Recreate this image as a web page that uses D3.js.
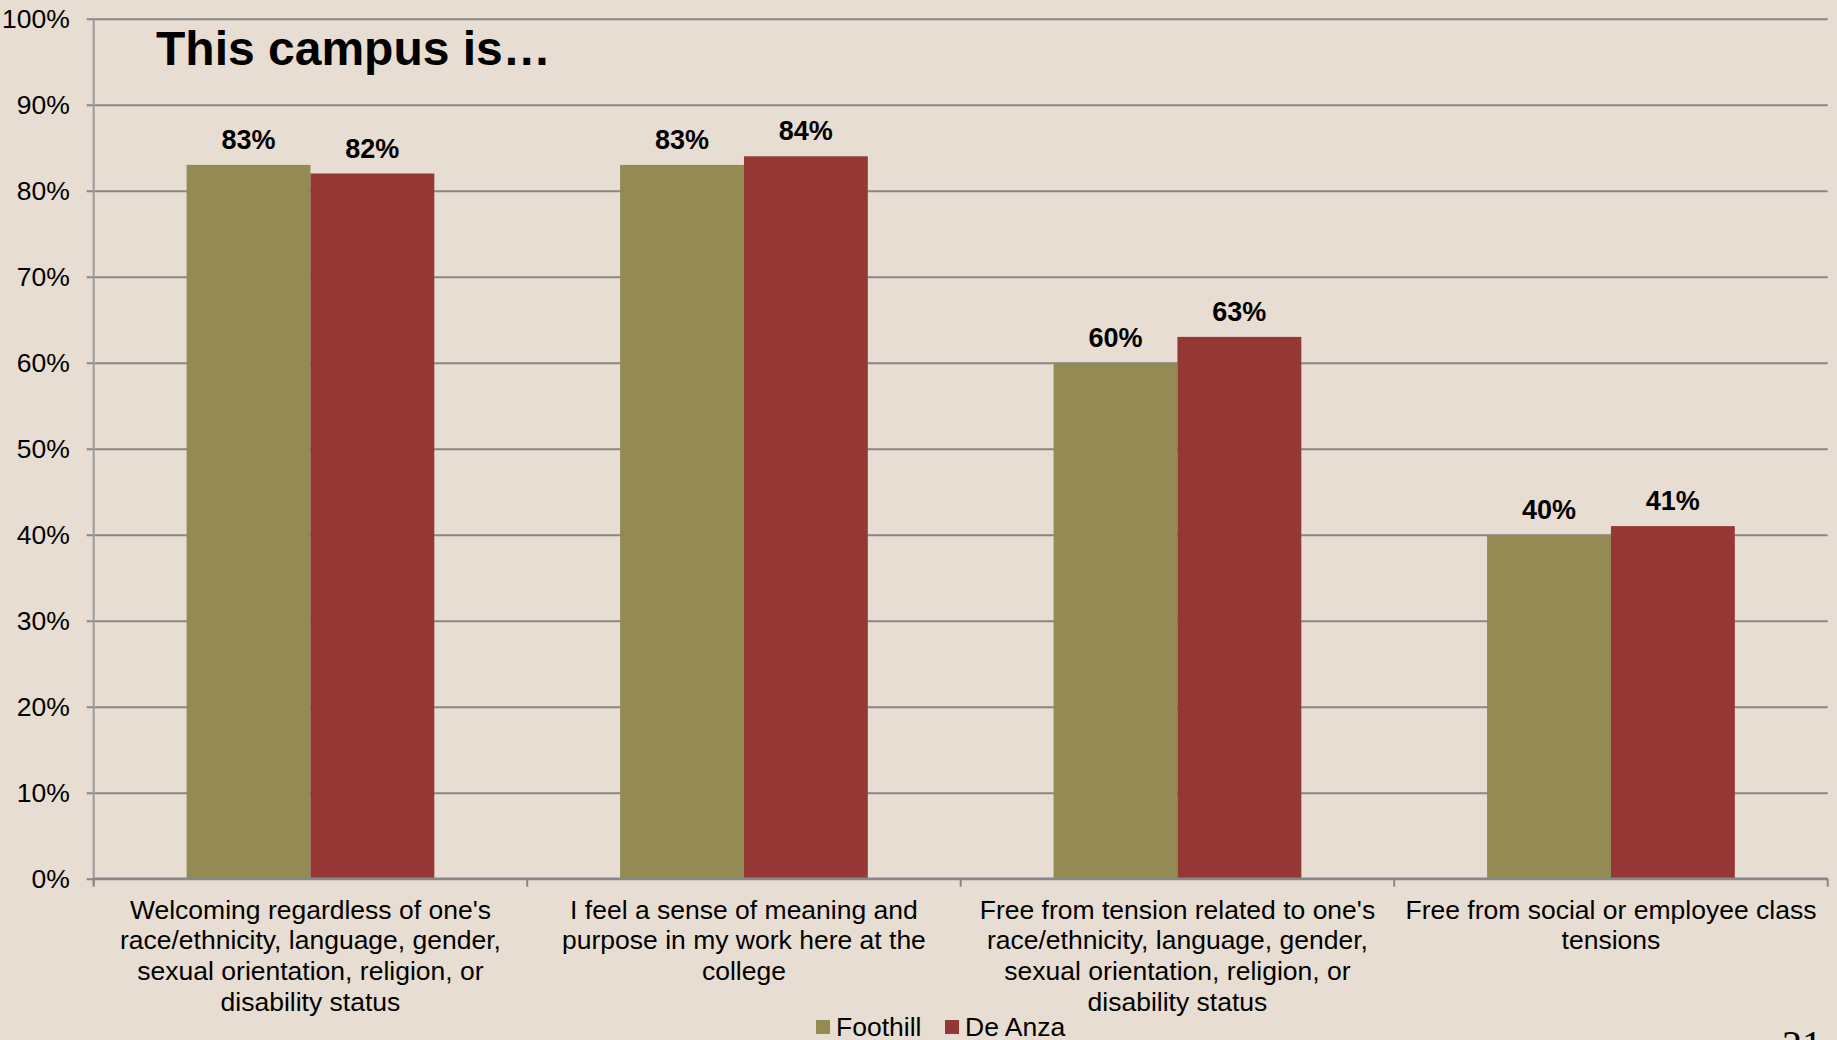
<!DOCTYPE html>
<html>
<head>
<meta charset="utf-8">
<script src="https://cdn.jsdelivr.net/npm/d3@7"></script>
<style>
  html, body { margin: 0; padding: 0; background: #e8ddd2; overflow: hidden; }
  svg { display: block; font-family: "Liberation Sans", Arial, sans-serif; }
</style>
</head>
<body>
<div id="chart"></div>
<script>
// categories, each as the wrapped lines shown under the axis
const categories = [
    ["Welcoming regardless of one's", "race/ethnicity, language, gender,", "sexual orientation, religion, or", "disability status"],
    ["I feel a sense of meaning and", "purpose in my work here at the", "college"],
    ["Free from tension related to one's", "race/ethnicity, language, gender,", "sexual orientation, religion, or", "disability status"],
    ["Free from social or employee class", "tensions"]
];
const seriesNames = ["Foothill", "De Anza"];
const foothill = [0.83, 0.83, 0.60, 0.40];
const deAnza = [0.82, 0.84, 0.63, 0.41];
const yTicks = [0, 0.1, 0.2, 0.3, 0.4, 0.5, 0.6, 0.7, 0.8, 0.9, 1.0];

const colors = { "Foothill": "#948a54", "De Anza": "#953735" };

const width = 1837;
const height = 1040;
const margin = { top: 18.7, bottom: 161.3, left: 93.7, right: 9.3 };

const rows = categories.map((c, i) => ({ key: i, lines: c, values: [foothill[i], deAnza[i]] }));

const svg = d3.select('#chart')
    .append('svg')
    .attr('width', width)
    .attr('height', height);

svg.append('rect')
    .attr('width', width)
    .attr('height', height)
    .attr('fill', '#e8ddd2');

const x0 = d3.scaleBand()
    .domain(d3.range(categories.length))
    .range([margin.left, width - margin.right])
    .padding(0);

const x1 = d3.scaleBand()
    .domain(seriesNames)
    .range([0, x0.bandwidth()])
    .paddingInner(0)
    .paddingOuter(0.75);

const y = d3.scaleLinear()
    .domain([0, 1])
    .range([height - margin.bottom, margin.top]);

// gridlines + y ticks
const yAxis = d3.axisLeft(y)
    .tickValues(yTicks)
    .tickFormat(d3.format('.0%'))
    .tickSize(-(width - margin.left - margin.right))
    .tickPadding(24);

svg.append('g')
    .attr('transform', `translate(${margin.left},0)`)
    .call(yAxis)
    .call(g => g.select('.domain').remove())
    .call(g => g.selectAll('.tick line')
        .attr('x1', -7)
        .attr('stroke', '#878787')
        .attr('stroke-width', 2))
    .call(g => g.selectAll('.tick text')
        .attr('fill', '#000')
        .attr('font-size', 26.5)
        .attr('font-family', '"Liberation Sans", Arial, sans-serif'));

// y axis line
svg.append('line')
    .attr('x1', margin.left).attr('x2', margin.left)
    .attr('y1', y(1)).attr('y2', y(0) + 7)
    .attr('stroke', '#9a9a9a')
    .attr('stroke-width', 2);

// bars
const groups = svg.append('g')
    .selectAll('g')
    .data(rows)
    .join('g')
    .attr('transform', d => `translate(${x0(d.key)},0)`);

groups.selectAll('rect')
    .data(d => d.values.map((v, i) => ({ name: seriesNames[i], value: v })))
    .join('rect')
    .attr('x', d => x1(d.name))
    .attr('y', d => y(d.value))
    .attr('width', x1.bandwidth())
    .attr('height', d => y(0) - y(d.value))
    .attr('fill', d => colors[d.name]);

groups.selectAll('text.val')
    .data(d => d.values.map((v, i) => ({ name: seriesNames[i], value: v })))
    .join('text')
    .attr('class', 'val')
    .attr('x', d => x1(d.name) + x1.bandwidth() / 2)
    .attr('y', d => y(d.value) - 16)
    .attr('text-anchor', 'middle')
    .attr('font-size', 27)
    .attr('font-weight', 'bold')
    .attr('fill', '#000')
    .text(d => d3.format('.0%')(d.value));

// x axis line and category ticks
svg.append('line')
    .attr('x1', margin.left).attr('x2', width - margin.right)
    .attr('y1', y(0)).attr('y2', y(0))
    .attr('stroke', '#878787')
    .attr('stroke-width', 2.5);

svg.append('g')
    .selectAll('line')
    .data(d3.range(categories.length + 1))
    .join('line')
    .attr('x1', i => i < categories.length ? x0(i) : x0(i - 1) + x0.bandwidth())
    .attr('x2', i => i < categories.length ? x0(i) : x0(i - 1) + x0.bandwidth())
    .attr('y1', y(0))
    .attr('y2', y(0) + 8)
    .attr('stroke', '#878787')
    .attr('stroke-width', 2);

// category labels
const catLabels = svg.append('g')
    .selectAll('text')
    .data(rows)
    .join('text')
    .attr('text-anchor', 'middle')
    .attr('font-size', 26.5)
    .attr('fill', '#000')
    .attr('transform', d => `translate(${x0(d.key) + x0.bandwidth() / 2},${y(0) + 40})`);

catLabels.selectAll('tspan')
    .data(d => d.lines)
    .join('tspan')
    .attr('x', 0)
    .attr('y', (d, i) => i * 30.7)
    .text(d => d);

// title
svg.append('text')
    .attr('x', 156)
    .attr('y', 65)
    .attr('font-size', 48)
    .attr('font-weight', 'bold')
    .attr('fill', '#000')
    .text('This campus is…');

// legend
const legend = svg.append('g')
    .attr('transform', 'translate(816,1027)');
const legendX = d3.scaleOrdinal().domain(seriesNames).range([0, 129]);
const items = legend.selectAll('g')
    .data(seriesNames)
    .join('g')
    .attr('transform', d => `translate(${legendX(d)},0)`);
items.append('rect')
    .attr('x', 0).attr('y', -7)
    .attr('width', 14).attr('height', 14)
    .attr('fill', d => colors[d]);
items.append('text')
    .attr('x', 20)
    .attr('y', 9)
    .attr('font-size', 26.5)
    .attr('fill', '#000')
    .text(d => d);

// slide number
svg.append('text')
    .attr('x', 1822)
    .attr('y', 1058)
    .attr('text-anchor', 'end')
    .attr('font-size', 40)
    .attr('font-family', '"Liberation Serif", "Times New Roman", serif')
    .attr('fill', '#000')
    .text('21');
</script>
</body>
</html>
